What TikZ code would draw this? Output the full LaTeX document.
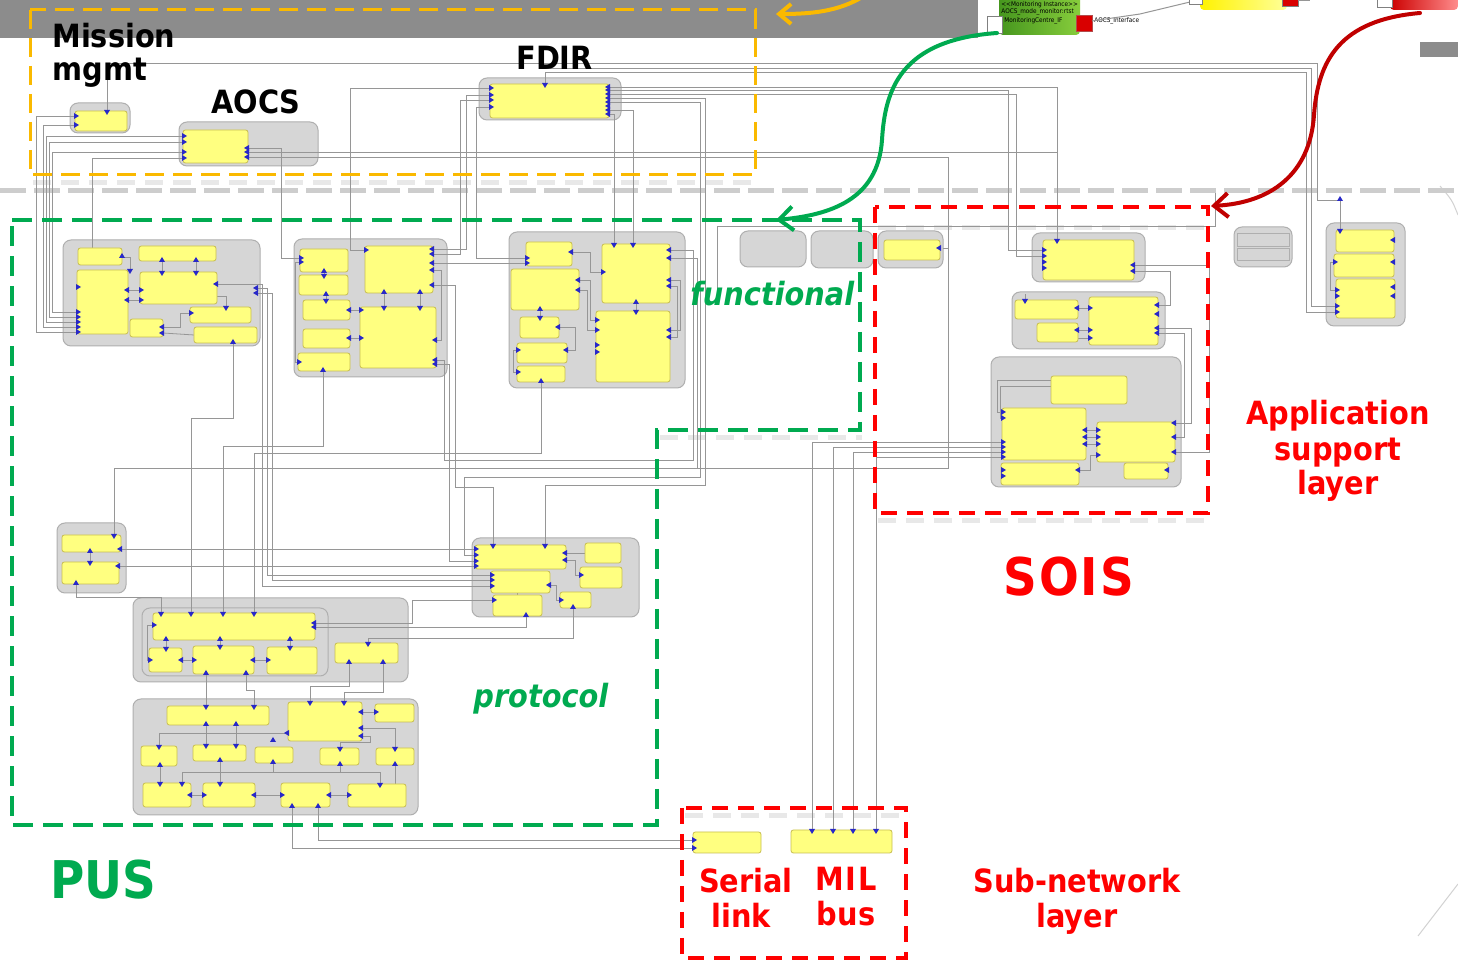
\documentclass[tikz,border=0pt]{standalone}
\usepackage{fontspec}
\newfontfamily\lbl{DejaVu Sans}[FakeStretch=0.9]
\usetikzlibrary{arrows.meta}

\definecolor{bandc}{RGB}{140,140,140}
\definecolor{orangec}{RGB}{250,185,0}
\definecolor{greenc}{RGB}{0,170,80}
\definecolor{redc}{RGB}{255,0,0}
\definecolor{darkredc}{RGB}{192,0,0}
\definecolor{compfill}{RGB}{214,214,214}
\definecolor{compline}{RGB}{175,175,175}
\definecolor{ybfill}{RGB}{255,255,128}
\definecolor{ybline}{RGB}{200,190,80}
\definecolor{wirec}{RGB}{150,150,150}
\definecolor{portc}{RGB}{40,40,200}
\definecolor{sepc}{RGB}{205,205,205}
\definecolor{shadc}{RGB}{232,232,232}

% gray component container and yellow part block, given by their corners
\newcommand\comp[5]{\node[compst, minimum width={(#4-#2)*0.5pt}, minimum height={(#5-#3)*0.5pt}] (#1) at ({(#2+#4)/2},{(#3+#5)/2}) {};}
\newcommand\yb[5]{\node[ybst, minimum width={(#4-#2)*0.5pt}, minimum height={(#5-#3)*0.5pt}] (#1) at ({(#2+#4)/2},{(#3+#5)/2}) {};}
% port triangles
\newcommand\portR[2]{\fill[portc] (#1-1,#2-3) -- (#1+4,#2) -- (#1-1,#2+3) -- cycle;}
\newcommand\portL[2]{\fill[portc] (#1+1,#2-3) -- (#1-4,#2) -- (#1+1,#2+3) -- cycle;}
\newcommand\portD[2]{\fill[portc] (#1-3,#2-1) -- (#1,#2+4) -- (#1+3,#2-1) -- cycle;}
\newcommand\portU[2]{\fill[portc] (#1-3,#2+1) -- (#1,#2-4) -- (#1+3,#2+1) -- cycle;}

\begin{document}
\begin{tikzpicture}[x=0.5pt,y=-0.5pt,
  compst/.style={draw=compline, fill=compfill, rounded corners=4pt, line width=0.5pt, inner sep=0pt, outer sep=0pt},
  ybst/.style={draw=ybline, fill=ybfill, rounded corners=1.2pt, line width=0.4pt, inner sep=0pt, outer sep=0pt},
  wire/.style={draw=wirec, line width=0.4pt},
  frameO/.style={draw=orangec, line width=1.5pt, dash pattern=on 9.5pt off 4.5pt},
  frameG/.style={draw=greenc, line width=1.6pt, dash pattern=on 10pt off 5pt},
  frameR/.style={draw=redc, line width=1.6pt, dash pattern=on 8pt off 5pt},
  shadow/.style={draw=shadc, line width=2.5pt, dash pattern=on 9pt off 5pt},
  lab/.style={font=\lbl\bfseries\fontsize{16pt}{19pt}\selectfont, inner sep=0pt},
  bigl/.style={font=\lbl\bfseries\fontsize{26pt}{30pt}\selectfont, inner sep=0pt},
  tiny/.style={font=\lbl\fontsize{3.2pt}{4pt}\selectfont, inner sep=0pt, anchor=west},
  flow/.style={line width=2pt, line cap=round}
]
\useasboundingbox (0,0) rectangle (1458,961);
\clip (0,0) rectangle (1458,961);
\fill[white] (0,0) rectangle (1458,961);

% ---------- header band and the upper-right instance strip ----------
\fill[bandc] (0,0) rectangle (978,38);
\fill[bandc] (1420,42) rectangle (1458,57);
\shade[left color={rgb,255:red,70;green,150;blue,30}, right color={rgb,255:red,135;green,205;blue,60}, rounded corners=2pt]
  (999,-10) rectangle (1080,35);
\node[tiny] (mi1) at (1001,5) {<<Monitoring Instance>>};
\node[tiny] (mi2) at (1001,12) {AOCS\_mode\_monitor:rtst};
\node[tiny] (mi3) at (1004,21) {MonitoringCentre\_IF};
\draw[gray, fill=white] (987,16) rectangle (1002,33);
\draw[gray!60!red, fill=red!85!black] (1076,15) rectangle (1092,31);
\node[tiny] (aif) at (1094,21) {AOCS\_Interface};
\draw[wirec, line width=0.5pt] (1092,21) -- (1140,14) -- (1190,2);
\shade[left color=yellow!90!orange, right color=yellow!40, rounded corners=2pt] (1200,-10) rectangle (1287,10);
\draw[gray, fill=white] (1189,-5) rectangle (1202,4);
\draw[gray, fill=red!85!black] (1282,-5) rectangle (1298,6);
\draw[wirec] (1298,0) -- (1310,0);
\shade[left color=red!80!black, right color=red!45, rounded corners=2pt] (1390,-10) rectangle (1458,10);
\draw[gray, fill=white] (1377,-5) rectangle (1392,7);
\draw[gray!35, line width=0.5pt] (1440,186) .. controls (1452,200) .. (1458,215);
\draw[gray!35, line width=0.5pt] (1418,936) -- (1458,884);

% layer separator
\draw[sepc, line width=2.5pt, dash pattern=on 13pt off 4pt] (0,191) -- (1458,191);

% soft shadows below the grouping frames
\draw[shadow] (33,183) -- (758,183);
\draw[shadow] (660,438) -- (862,438);
\draw[shadow] (878,521) -- (1211,521);
\draw[shadow] (685,816) -- (909,816);
\draw[shadow] (878,228) -- (1205,228);

% ---------- component containers ----------
\comp{cMM}{70}{103}{130}{133}
\comp{cAO}{179}{122}{318}{166}
\comp{cFD}{479}{78}{621}{120}
\comp{c1}{63}{240}{260}{346}
\comp{c2}{294}{239}{447}{377}
\comp{c3}{509}{232}{685}{388}
\comp{e1}{740}{231}{806}{267}
\comp{e2}{811}{231}{873}{268}
\comp{sA}{878}{231}{943}{268}
\comp{sB}{1032}{233}{1145}{282}
\comp{sC}{1012}{292}{1165}{349}
\comp{sD}{991}{357}{1181}{487}
\comp{r1}{1234}{227}{1292}{267}
\draw[compline, fill=compfill] (1237,233) rectangle (1289,246);
\draw[compline, fill=compfill] (1237,248) rectangle (1289,260);
\comp{r2}{1326}{223}{1405}{326}
\comp{p1}{57}{523}{126}{593}
\comp{p2}{472}{538}{639}{617}
\comp{p3}{133}{598}{408}{682}
\comp{p3i}{142}{608}{328}{676}
\comp{p4}{133}{699}{418}{815}

% ---------- wiring ----------
\begin{scope}[wire]
% long trunks from the upper applications
\draw (107,111) -- (107,63) -- (1317,63) -- (1317,200) -- (1340,200) -- (1340,230);
\draw (545,84) -- (545,72) -- (1306,72) -- (1306,312) -- (1336,312);
\draw (1336,306) -- (1311,306) -- (1311,68) -- (545,68);
\draw (609,87) -- (1057,87) -- (1057,240);
\draw (609,90) -- (1008,90) -- (1008,250) -- (1043,250);
\draw (609,94) -- (1016,94) -- (1016,256) -- (1043,256);
\draw (609,98) -- (705,98) -- (705,485) -- (545,485) -- (545,545);
\draw (609,102) -- (700,102) -- (700,477) -- (464,477) -- (464,555) -- (475,555);
\draw (609,110) -- (633,110) -- (633,244);
\draw (609,114) -- (614,114) -- (614,244);
\draw (490,88) -- (350,88) -- (350,250) -- (365,250);
\draw (490,95) -- (466,95) -- (466,249) -- (433,249);
\draw (490,100) -- (460,100) -- (460,254) -- (433,254);
\draw (490,107) -- (476,107) -- (476,258) -- (526,258);
\draw (433,263) -- (526,263);
\draw (717,300) -- (717,226) -- (1215,226) -- (1215,193);
% mission management and AOCS into the PUS services
\draw (75,116) -- (36,116) -- (36,332) -- (77,332);
\draw (75,125) -- (43,125) -- (43,327) -- (77,327);
\draw (183,136) -- (46,136) -- (46,322) -- (77,322);
\draw (183,142) -- (49,142) -- (49,317) -- (77,317);
\draw (183,152) -- (52,152) -- (52,312) -- (77,312);
\draw (183,158) -- (92,158) -- (92,248);
\draw (248,152) -- (1057,152);
\draw (248,157) -- (948,157) -- (948,468) -- (114,468) -- (114,535);
\draw (248,148) -- (281,148) -- (281,258) -- (300,258);
% functional to protocol
\draw (233,343) -- (233,418) -- (191,418) -- (191,613);
\draw (217,284) -- (262,284) -- (262,586) -- (491,586);
\draw (257,288) -- (267,288) -- (267,575) -- (491,575);
\draw (257,293) -- (272,293) -- (272,580) -- (491,580);
\draw (323,371) -- (323,446) -- (223,446) -- (223,613);
\draw (541,382) -- (541,453) -- (254,453) -- (254,613);
\draw (436,360) -- (444,360) -- (444,460) -- (693,460) -- (693,250) -- (670,250);
\draw (670,258) -- (697,258) -- (697,468);
\draw (436,364) -- (449,364) -- (449,561) -- (475,561);
\draw (433,285) -- (455,285) -- (455,487) -- (493,487) -- (493,545);
\draw (121,549) -- (475,549);
\draw (119,566) -- (475,566);
\draw (76,584) -- (76,597) -- (161,597) -- (161,613);
\draw (315,623) -- (412,623) -- (412,600) -- (493,600);
\draw (315,627) -- (526,627) -- (526,616);
\draw (368,643) -- (368,638) -- (573,638) -- (573,608);
\draw (349,663) -- (349,686) -- (310,686) -- (310,702);
\draw (383,663) -- (383,692) -- (344,692) -- (344,702);
\draw (206,674) -- (206,706);
\draw (246,674) -- (246,690) -- (254,690) -- (254,706);
% links down to the sub-network
\draw (292,807) -- (292,848) -- (693,848);
\draw (318,807) -- (318,840) -- (693,840);
\draw (1002,442) -- (812,442) -- (812,830);
\draw (1002,447) -- (833,447) -- (833,830);
\draw (1002,452) -- (853,452) -- (853,830);
\draw (1002,457) -- (876,457) -- (876,830);
% inside the functional services
\draw (162,261) -- (162,272);  \draw (196,261) -- (196,272);
\draw (128,290) -- (140,290);  \draw (128,300) -- (140,300);
\draw (163,327) -- (180,327) -- (180,313) -- (190,313);
\draw (163,333) -- (194,335);
\draw (217,296) -- (226,296) -- (226,307);
\draw (122,257) -- (130,257) -- (130,270);
\draw (324,272) -- (324,275);  \draw (326,295) -- (326,300);
\draw (350,310) -- (360,310);  \draw (350,338) -- (360,338);
\draw (384,293) -- (384,307);  \draw (420,293) -- (420,307);
\draw (300,262) -- (295,262) -- (295,362) -- (298,362);
\draw (433,270) -- (441,270) -- (441,340) -- (436,340);
\draw (572,252) -- (590,252) -- (590,272) -- (602,272);
\draw (579,280) -- (590,280) -- (590,320) -- (596,320);
\draw (579,290) -- (587,290) -- (587,330) -- (596,330);
\draw (540,310) -- (540,317);
\draw (559,327) -- (575,327) -- (575,350) -- (567,350);
\draw (636,303) -- (636,311);
\draw (670,280) -- (680,280) -- (680,330) -- (670,330);
\draw (670,286) -- (677,286) -- (677,337) -- (670,337);
\draw (517,350) -- (513,350) -- (513,372) -- (517,372);
% inside the protocol services
\draw (90,552) -- (90,562);
\draw (153,625) -- (147,625) -- (147,660) -- (149,660);
\draw (182,660) -- (193,660);  \draw (254,660) -- (267,660);
\draw (220,640) -- (220,646);  \draw (166,640) -- (166,648);  \draw (290,640) -- (290,647);
\draw (566,553) -- (585,553);
\draw (566,560) -- (575,560) -- (575,575) -- (580,575);
\draw (550,585) -- (556,585) -- (556,600) -- (560,600);
\draw (517,593) -- (517,595);
\draw (288,733) -- (159,733) -- (159,746);
\draw (206,725) -- (206,745);  \draw (236,725) -- (236,745);
\draw (362,728) -- (395,728) -- (395,748);
\draw (362,736) -- (370,736) -- (370,742) -- (340,742) -- (340,748);
\draw (182,783) -- (182,772) -- (380,772) -- (380,784);
\draw (160,766) -- (160,783);  \draw (220,761) -- (220,783);
\draw (273,763) -- (273,772);  \draw (340,765) -- (340,772);
\draw (395,765) -- (395,784);
\draw (191,795) -- (203,795);  \draw (255,795) -- (281,795);  \draw (330,795) -- (348,795);
\draw (362,712) -- (375,712);
% inside the application support layer
\draw (1134,265) -- (1209,265) -- (1209,452) -- (1175,452);
\draw (1134,271) -- (1170,271) -- (1170,305) -- (1158,305);
\draw (1158,328) -- (1191,328) -- (1191,423) -- (1175,423);
\draw (1158,333) -- (1184,333) -- (1184,437) -- (1175,437);
\draw (1078,308) -- (1089,308);  \draw (1078,330) -- (1089,330);  \draw (1078,338) -- (1089,338);
\draw (1025,300) -- (1025,294);
\draw (1086,430) -- (1097,430);  \draw (1086,437) -- (1097,437);  \draw (1086,444) -- (1097,444);
\draw (1051,380) -- (997,380) -- (997,412) -- (1002,412);
\draw (1051,386) -- (1000,386) -- (1000,418) -- (1002,418);
\draw (1079,470) -- (1090,470) -- (1090,455) -- (1097,455);
\draw (1334,262) -- (1330,262) -- (1330,290) -- (1336,290);
\draw (943,248) -- (949,248);
\end{scope}

% ---------- part blocks ----------
\yb{mmY}{75}{111}{127}{131}
\yb{aoY}{183}{130}{248}{163}
\yb{fdY}{490}{84}{609}{118}
\yb{c1a}{78}{248}{122}{265}
\yb{c1b}{139}{246}{216}{261}
\yb{c1c}{77}{270}{128}{334}
\yb{c1d}{140}{272}{217}{304}
\yb{c1e}{190}{307}{251}{323}
\yb{c1f}{130}{319}{163}{337}
\yb{c1g}{194}{327}{257}{343}
\yb{c2a}{300}{249}{348}{272}
\yb{c2b}{299}{275}{348}{295}
\yb{c2c}{303}{300}{350}{320}
\yb{c2d}{303}{329}{350}{348}
\yb{c2e}{298}{353}{350}{371}
\yb{c2f}{365}{246}{433}{293}
\yb{c2g}{360}{307}{436}{368}
\yb{c3a}{526}{242}{572}{266}
\yb{c3b}{511}{269}{579}{310}
\yb{c3c}{520}{317}{559}{338}
\yb{c3d}{517}{343}{567}{363}
\yb{c3e}{517}{366}{565}{382}
\yb{c3f}{602}{244}{670}{303}
\yb{c3g}{596}{311}{670}{382}
\yb{sAy}{884}{240}{940}{260}
\yb{sBy}{1043}{240}{1134}{280}
\yb{sC1}{1015}{300}{1078}{319}
\yb{sC2}{1037}{323}{1078}{342}
\yb{sC3}{1089}{297}{1158}{345}
\yb{sD1}{1051}{376}{1127}{404}
\yb{sD2}{1002}{408}{1086}{460}
\yb{sD3}{1097}{422}{1175}{462}
\yb{sD4}{1001}{463}{1079}{485}
\yb{sD5}{1124}{463}{1168}{479}
\yb{r2a}{1336}{230}{1394}{252}
\yb{r2b}{1334}{254}{1394}{277}
\yb{r2c}{1336}{279}{1395}{318}
\yb{p1a}{62}{535}{121}{552}
\yb{p1b}{62}{562}{119}{584}
\yb{p2a}{475}{545}{566}{569}
\yb{p2b}{491}{571}{550}{593}
\yb{p2c}{493}{595}{542}{616}
\yb{p2d}{585}{543}{621}{563}
\yb{p2e}{580}{567}{622}{588}
\yb{p2f}{560}{592}{591}{608}
\yb{p3a}{153}{613}{315}{640}
\yb{p3b}{149}{648}{182}{672}
\yb{p3c}{193}{646}{254}{674}
\yb{p3d}{267}{647}{317}{674}
\yb{p3e}{335}{643}{398}{663}
\yb{p4a}{167}{706}{269}{725}
\yb{p4b}{288}{702}{362}{741}
\yb{p4c}{375}{704}{414}{722}
\yb{p4d}{141}{746}{177}{766}
\yb{p4e}{193}{745}{246}{761}
\yb{p4f}{255}{747}{293}{763}
\yb{p4g}{320}{748}{359}{765}
\yb{p4h}{376}{748}{414}{765}
\yb{p4i}{143}{783}{191}{807}
\yb{p4j}{203}{783}{255}{807}
\yb{p4k}{281}{783}{330}{807}
\yb{p4l}{348}{784}{406}{807}
\yb{sl}{693}{832}{761}{853}
\yb{mb}{791}{830}{892}{853}

% ---------- ports ----------
\foreach \a/\b in {75/116,75/125,183/136,183/142,183/152,183/158,490/88,490/95,490/100,490/107,
  77/332,77/327,77/322,77/317,77/312,77/287,300/258,300/262,365/250,1043/250,1043/256,1336/312,1336/306,
  526/258,526/263,475/549,475/555,475/561,475/566,491/575,491/580,491/586,493/600,693/840,693/848,
  1002/442,1002/447,1002/452,1002/457,140/290,140/300,190/313,596/320,596/330,602/272,
  1089/308,1089/330,1089/338,1097/430,1097/437,1097/444,1097/455,1002/412,1002/418,360/310,360/338,
  149/660,193/660,267/660,580/575,560/600,298/362,1336/290,375/712,1043/262,1043/268,
  1336/296,1334/262,517/372,517/350,596/345,596/352,1002/470,1002/476,153/625,203/795,281/795,348/795}
  {\portR{\a}{\b}}
\foreach \a/\b in {609/87,609/90,609/94,609/98,609/102,609/106,609/110,609/114,248/148,248/152,248/157,
  257/288,257/293,217/284,433/249,433/254,433/285,433/263,433/270,436/360,436/364,436/340,670/250,670/258,
  1134/265,1134/271,1158/328,1158/333,1175/423,1175/437,1175/452,1158/305,121/549,119/566,315/623,315/627,
  670/280,670/286,670/330,670/337,579/280,579/290,572/252,128/290,128/300,163/327,163/333,
  1078/308,1078/330,1086/430,1086/437,1086/444,1079/470,350/310,350/338,182/660,254/660,
  566/553,566/560,550/585,362/728,362/736,362/712,191/795,255/795,330/795,1394/240,1394/262,1394/287,
  1394/296,940/248,559/327,567/350,288/733,1168/470,1158/314}
  {\portL{\a}{\b}}
\foreach \a/\b in {107/111,545/84,633/244,614/244,1057/240,1340/230,114/535,161/613,191/613,223/613,254/613,
  545/545,493/545,206/706,254/706,310/702,344/702,812/830,833/830,853/830,876/830,368/643,159/746,
  395/748,380/784,182/783,162/272,196/272,384/307,420/307,324/275,326/300,540/317,636/311,
  90/562,220/646,166/648,290/647,206/745,236/745,340/748,160/783,220/783,1025/300,130/270,226/307}
  {\portD{\a}{\b}}
\foreach \a/\b in {233/343,323/371,541/382,76/584,349/663,383/663,206/674,246/674,292/807,318/807,
  526/616,573/608,162/261,196/261,384/293,420/293,324/272,326/295,540/310,636/303,90/552,
  220/640,166/640,290/640,206/725,236/725,273/741,160/766,220/761,273/763,340/765,395/765,
  122/257,1340/200}
  {\portU{\a}{\b}}

% ---------- grouping frames ----------
\draw[frameO] (30,10) rectangle (755,175);
\draw[frameG] (12,220) -- (860,220) -- (860,430) -- (657,430) -- (657,825) -- (12,825) -- cycle;
\draw[frameR] (875,207) rectangle (1208,513);
\draw[frameR] (682,808) rectangle (906,958);

% ---------- flow arrows ----------
\coordinate (oS) at (864,-4);
\coordinate (oT) at (776,14);
\coordinate (gS) at (997,33);
\coordinate (gT) at (776,220);
\coordinate (rS) at (1420,13);
\coordinate (rT) at (1211,206);
\draw[flow, orangec, -{Straight Barb[length=6pt,width=10pt]}]
  (oS) .. controls (838,12) and (810,14) .. (oT);
\draw[flow, greenc, -{Straight Barb[length=7pt,width=12pt]}]
  (gS) .. controls (900,40) and (885,90) .. (882,140) .. controls (878,200) and (830,215) .. (gT);
\draw[flow, darkredc, -{Straight Barb[length=7pt,width=12pt]}]
  (rS) .. controls (1340,20) and (1318,60) .. (1314,115) .. controls (1310,175) and (1270,203) .. (rT);

% ---------- labels ----------
\node[lab, anchor=base west] (tMis) at (52,48) {Mission};
\node[lab, anchor=base west] (tMg) at (52,81) {mgmt};
\node[lab, anchor=base west] (tAO) at (211,114) {AOCS};
\node[lab, anchor=base west] (tFD) at (516,70) {FDIR};
\node[lab, anchor=base west, text=greenc, font=\lbl\bfseries\itshape\fontsize{16pt}{19pt}\selectfont] (tFun) at (690,306) {functional};
\node[lab, anchor=base west, text=greenc, font=\lbl\bfseries\itshape\fontsize{16pt}{19pt}\selectfont] (tPro) at (473,708) {protocol};
\node[bigl, anchor=base west, text=greenc] (tPUS) at (50,899) {PUS};
\node[bigl, anchor=base west, text=redc] (tSOIS) at (1003,596) {S\kern1pt O\kern1pt I\kern1pt S};
\node[lab, anchor=base, text=redc] (tAp1) at (1338,425) {Application};
\node[lab, anchor=base, text=redc] (tAp2) at (1338,461) {support};
\node[lab, anchor=base, text=redc] (tAp3) at (1338,495) {layer};
\node[lab, anchor=base, text=redc] (tSe1) at (746,893) {Serial};
\node[lab, anchor=base, text=redc] (tSe2) at (741,928) {link};
\node[lab, anchor=base, text=redc] (tMi1) at (846,891) {M\kern1pt I\kern1pt L};
\node[lab, anchor=base, text=redc] (tMi2) at (846,926) {bus};
\node[lab, anchor=base, text=redc] (tSu1) at (1077,893) {Sub-network};
\node[lab, anchor=base, text=redc] (tSu2) at (1077,928) {layer};
\end{tikzpicture}
\end{document}
